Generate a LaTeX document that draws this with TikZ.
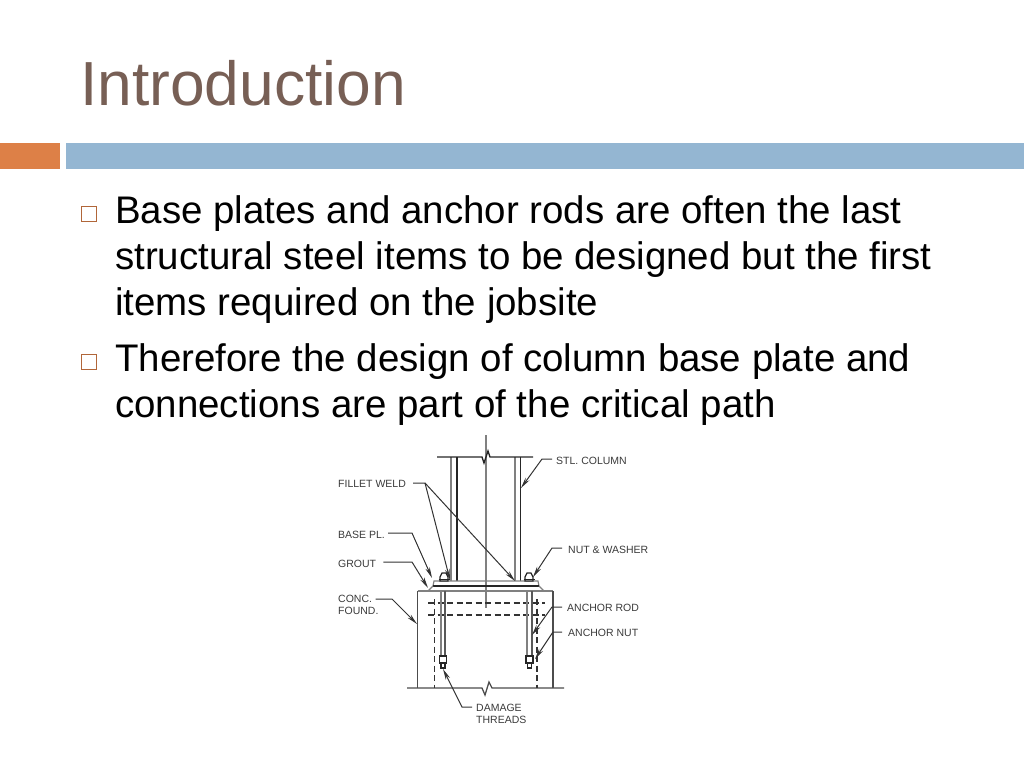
\documentclass[tikz,border=0pt]{standalone}
\usepackage{fontspec}
\setmainfont{Liberation Sans}
\usepackage{xcolor}
\usetikzlibrary{arrows.meta}
\definecolor{titlebrown}{HTML}{775F55}
\definecolor{baror}{HTML}{DD8047}
\definecolor{barbl}{HTML}{94B6D2}
\definecolor{labelgr}{HTML}{3A3A3A}
\definecolor{linegr}{HTML}{808080}
\tikzset{
	body/.style={anchor=base west, inner sep=0pt, font=\fontsize{38.45}{46}\selectfont},
	bulletbox/.style={draw=baror!80!black, line width=1.6pt, fill=white, minimum size=15pt, inner sep=0pt},
	tag/.style={anchor=base west, inner sep=0pt, text=labelgr, font=\fontsize{10.5}{11.7}\selectfont, align=left},
	steel/.style={line width=1.3pt, black!85},
	thinsteel/.style={line width=1.1pt, linegr},
	hidden/.style={line width=1.1pt, black!80, dash pattern=on 6pt off 3.5pt},
	leader/.style={line width=1pt, black!80, -{Stealth[length=11pt,width=4.6pt]}}
}
\begin{document}
\begin{tikzpicture}[x=1pt,y=-1pt]
        \useasboundingbox (0,0) rectangle (1024,768);
        \node[anchor=base west, inner sep=0pt, text=titlebrown, font=\fontsize{62.3}{70}\selectfont] (title) at (80,105) {Introduction};
        \fill[baror] (0,143) rectangle (60,169);
        \fill[barbl] (66,143) rectangle (1024,169);
        \node[bulletbox] (ba) at (89,214) {};
        \node[bulletbox] (bb) at (89,362) {};
        \node[body] (la) at (115,223) {Base plates and anchor rods are often the last};
        \node[body] (lb) at (115,269) {structural steel items to be designed but the first};
        \node[body] (lc) at (115,315) {items required on the jobsite};
        \node[body] (ld) at (115,371) {Therefore the design of column base plate and};
        \node[body] (le) at (115,417) {connections are part of the critical path};
        % column and plate
        \draw[thinsteel] (486,435) -- (486,608);
        \draw[thinsteel] (451,457) -- (451,581) (515,457) -- (515,581);
        \draw[steel] (457,457) -- (457,581) (520.5,457) -- (520.5,581);
        \draw[steel] (437,457) -- (482,457) -- (484,463) -- (488,451) -- (490,457) -- (533,457);
        \draw[thinsteel] (433,586) -- (434,581) -- (538,581) -- (539,586);
        \draw[steel] (433,586) -- (539,586);
        \draw[thinsteel] (428,591) -- (433,586) (544,591) -- (539,586);
        % foundation
        \draw[thinsteel] (417.5,591) -- (553,591);
        \draw[steel, black!70] (417.5,591) -- (417.5,688) (553,591) -- (553,688);
        \draw[steel, black!70] (407,688) -- (482,688) -- (485,695) -- (489,682) -- (492,688) -- (564,688);
        \draw[hidden] (428,603) -- (545,603) (428,615) -- (545,615);
        \draw[hidden] (434.5,599) -- (434.5,688) (537,599) -- (537,688);
        % anchor rods
        \draw[thinsteel] (441,591) -- (441,656) (527,591) -- (527,656);
        \draw[thinsteel, black!65] (445,591) -- (445,656) (532,591) -- (532,656);
        \foreach \nx in {443,529.5} {
                \draw[steel, fill=white] (\nx-3.5,656) rectangle (\nx+3.5,663);
                \draw[steel, line width=1.6pt] (\nx-2,663) -- (\nx-2,668) -- (\nx+2,668) -- (\nx+2,663);
        }
        \foreach \nx in {444,529} {
                \draw[steel, fill=white] (\nx-4,581) -- (\nx-4,577) -- (\nx-2,573) -- (\nx+2,573) -- (\nx+4,577) -- (\nx+4,581) -- cycle;
                \draw[steel] (\nx-5.5,579.5) -- (\nx+5.5,579.5);
        }
        % labels
        \node[tag] (stl) at (556,464) {STL. COLUMN};
        \node[tag] (weld) at (338,487) {FILLET WELD};
        \node[tag] (plate) at (338,538) {BASE PL.};
        \node[tag] (grout) at (338,567) {GROUT};
        \node[tag] (washer) at (568,553) {NUT \& WASHER};
        \node[tag] (conc) at (338,614.5) {CONC.\\FOUND.};
        \node[tag] (rod) at (567,611) {ANCHOR ROD};
        \node[tag] (nut) at (568,636) {ANCHOR NUT};
        \node[tag] (damage) at (476,723) {DAMAGE\\THREADS};
        % leaders
        \coordinate (stlb) at (542,459);
        \coordinate (stle) at (521,488);
        \coordinate (weldb) at (425,483);
        \coordinate (welda) at (450,580);
        \coordinate (weldc) at (515,581);
        \coordinate (plateb) at (412,533);
        \coordinate (platee) at (432,578);
        \coordinate (groutb) at (412,562);
        \coordinate (groute) at (428,588);
        \coordinate (washerb) at (552,548);
        \coordinate (washere) at (533,577);
        \coordinate (concb) at (392,599);
        \coordinate (conce) at (417,624);
        \coordinate (rodb) at (552,607);
        \coordinate (rode) at (532,635);
        \coordinate (nutb) at (553,632);
        \coordinate (nute) at (535,659);
        \coordinate (damageb) at (462,707);
        \coordinate (damagee) at (443,669);
        \draw[leader] (stl.west |- stlb) ++(-4,0) -- (stlb) -- (stle);
        \draw[leader] (weld.east |- weldb) ++(7,0) -- (weldb) -- (welda);
        \draw[leader] (weldb) -- (weldc);
        \draw[leader] (plate.east |- plateb) ++(3,0) -- (plateb) -- (platee);
        \draw[leader] (grout.east |- groutb) ++(7,0) -- (groutb) -- (groute);
        \draw[leader] (washer.west |- washerb) ++(-6,0) -- (washerb) -- (washere);
        \draw[leader] (conc.east |- concb) ++(-3,0) -- (concb) -- (conce);
        \draw[leader] (rod.west |- rodb) ++(-5,0) -- (rodb) -- (rode);
        \draw[leader] (nut.west |- nutb) ++(-6,0) -- (nutb) -- (nute);
        \draw[leader] (damage.west |- damageb) ++(-4,0) -- (damageb) -- (damagee);
\end{tikzpicture}
\end{document}
